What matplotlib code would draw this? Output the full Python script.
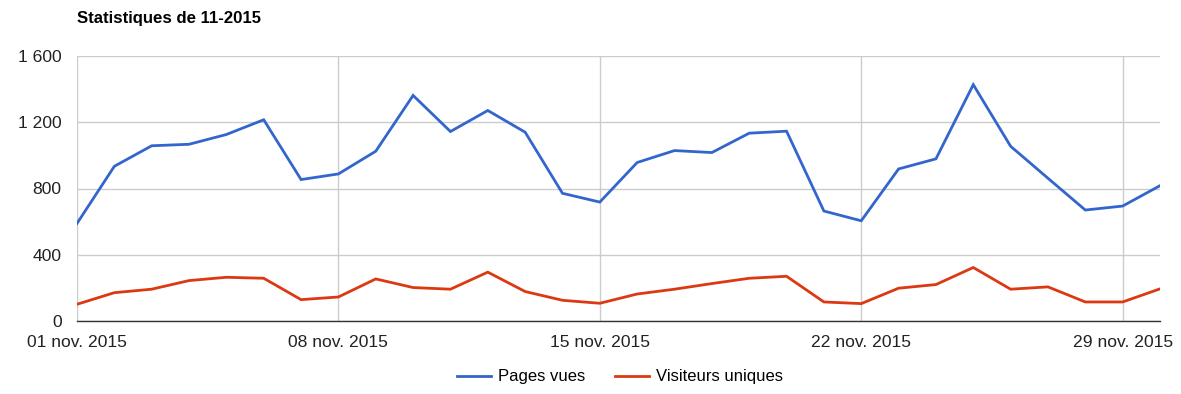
import matplotlib.pyplot as plt
import numpy as np

plt.rcParams['font.family'] = ['Liberation Sans', 'DejaVu Sans']

days = np.arange(1, 31)
pages_vues = [589, 934, 1058, 1067, 1126, 1215, 854, 888, 1025, 1362,
              1144, 1271, 1140, 771, 718, 957, 1029, 1017, 1134, 1146,
              664, 605, 918, 979, 1427, 1055, 862, 670, 694, 817]
visiteurs = [101, 171, 192, 244, 264, 258, 129, 145, 254, 202,
             192, 295, 178, 125, 107, 163, 192, 226, 258, 270,
             115, 105, 198, 220, 323, 192, 206, 115, 115, 194]
xtick_days = [1, 8, 15, 22, 29]
xtick_labels = ["01 nov. 2015", "08 nov. 2015", "15 nov. 2015", "22 nov. 2015", "29 nov. 2015"]
ytick_vals = [0, 400, 800, 1200, 1600]
ytick_labels = ["0", "400", "800", "1 200", "1 600"]

fig = plt.figure(figsize=(11.81, 3.94), dpi=100)
ax = fig.add_axes([77/1181, 73/394, (1160-77)/1181, (321-56)/394])

ax.plot(days, pages_vues, color="#3366cc", lw=2, label="Pages vues", solid_joinstyle="miter")
ax.plot(days, visiteurs, color="#dc3912", lw=2, label="Visiteurs uniques", solid_joinstyle="miter")

ax.set_xlim(1, 30)
ax.set_ylim(0, 1600)
ax.set_xticks(xtick_days)
ax.set_xticklabels(xtick_labels)
ax.set_yticks(ytick_vals)
ax.set_yticklabels(ytick_labels)
ax.tick_params(length=0, labelsize=12.6, colors="#222222")
ax.tick_params(axis="y", pad=11)
ax.tick_params(axis="x", pad=10)
ax.grid(True, color="#cccccc", lw=1)
ax.set_axisbelow(True)
for s in ["top", "right", "left"]:
    ax.spines[s].set_visible(False)
ax.spines["bottom"].set_color("#333333")
ax.spines["bottom"].set_linewidth(1)

fig.text(77/1181, 1 - 19/394, "Statistiques de 11-2015", fontsize=12.1, fontweight="bold",
         va="center", ha="left")

fig.legend(loc="center", bbox_to_anchor=(0.525, 1 - 377/394), ncol=2, frameon=False,
           fontsize=12.0, handlelength=2.05, columnspacing=1.75, handletextpad=0.45)

fig.savefig("out.png", dpi=100)
